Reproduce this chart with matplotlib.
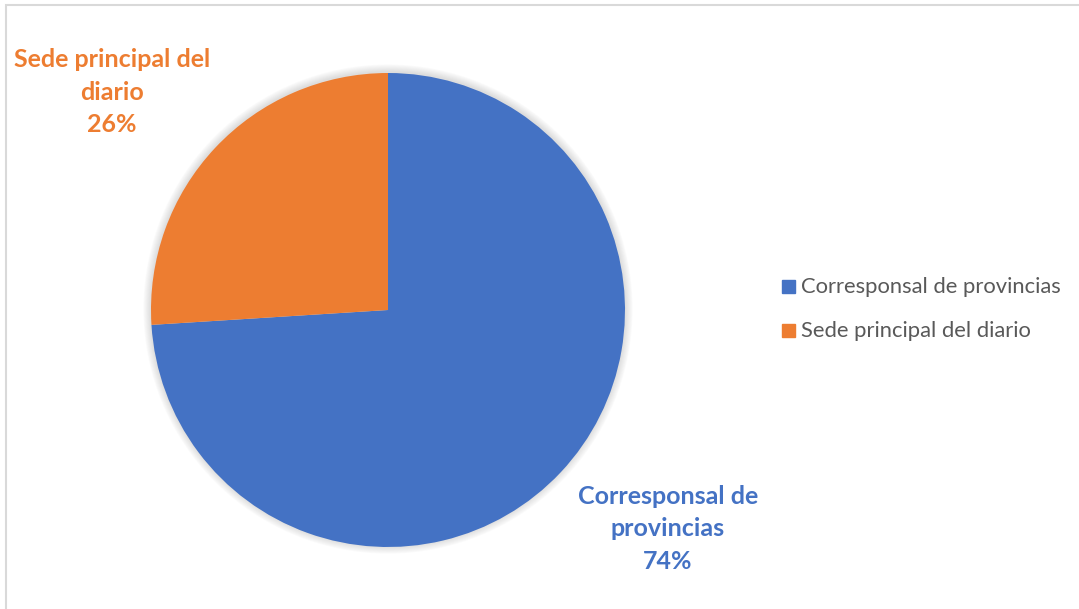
import matplotlib.pyplot as plt
from matplotlib.patches import Circle, Rectangle

labels = ['Corresponsal de provincias', 'Sede principal del diario']
values = [74, 26]
colors = ['#4472C4', '#ED7D31']

W, H = 1079, 609
fig = plt.figure(figsize=(W / 100, H / 100), dpi=100)
plt.rcParams['font.family'] = ['Lato', 'DejaVu Sans']

# pie area in pixels: centre (388, 310), radius 237
cx, cy, r = 388, 310, 237
ax = fig.add_axes([(cx - r) / W, (H - cy - r) / H, 2 * r / W, 2 * r / H])

wedges, _ = ax.pie(values, colors=colors, startangle=90, counterclock=False,
                   radius=1, wedgeprops=dict(linewidth=0))
for w in wedges:
    w.set_zorder(2)

# soft shadow around the pie
for k in range(8):
    ax.add_patch(Circle((0, 0.004), 1.0 + 0.004 * (k + 1), color='#888888',
                        alpha=0.035, lw=0, zorder=0, clip_on=False))

ax.set_xlim(-1, 1)
ax.set_ylim(-1, 1)
ax.set_aspect('equal')
ax.axis('off')

# data labels
def px(x, y):
    return x / W, 1 - y / H

fig.text(*px(112, 92), 'Sede principal del\ndiario\n26%', ha='center', va='center',
         color=colors[1], fontsize=18, fontweight='bold', linespacing=1.48)
fig.text(*px(668, 529), 'Corresponsal de\nprovincias\n74%', ha='center', va='center',
         color=colors[0], fontsize=18, fontweight='bold', linespacing=1.48)

# legend
for i, (lab, col) in enumerate(zip(labels, colors)):
    yy = 287 + i * 44
    fig.patches.append(Rectangle(px(782, yy + 6), 13 / W, 13 / H, color=col,
                                 transform=fig.transFigure))
    fig.text(*px(801, yy), lab, ha='left', va='center', color='#595959', fontsize=15.8)

# chart frame
fig.patches.append(Rectangle((6 / W, -0.01), 1.01, 1 - 5 / H + 0.01, fill=False,
                             edgecolor='#D9D9D9', lw=1.5, transform=fig.transFigure))

fig.savefig('out.png', dpi=100)
